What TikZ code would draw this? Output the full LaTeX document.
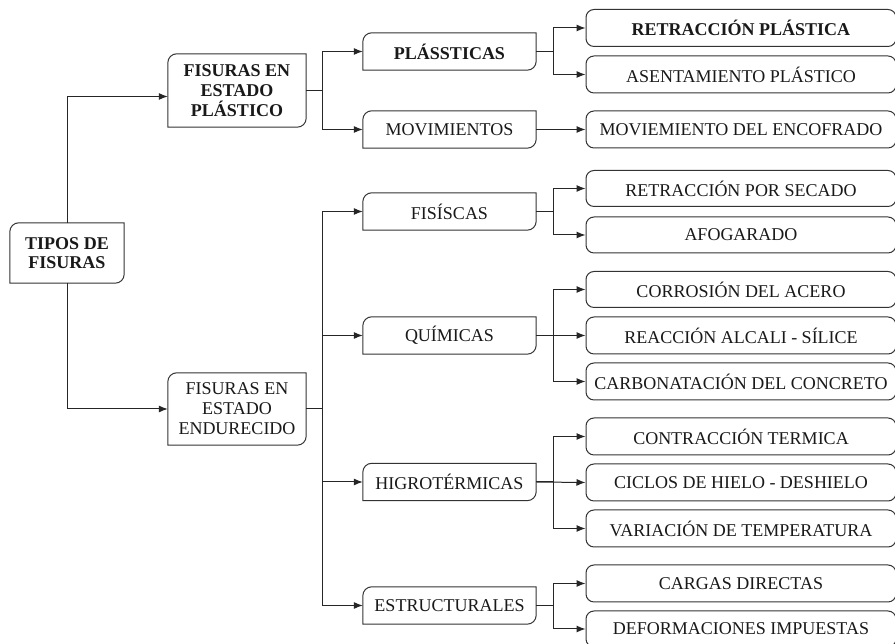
\documentclass[tikz,border=0pt]{standalone}
\usepackage{fontspec}
\setmainfont{Liberation Serif}
\usetikzlibrary{arrows.meta}
\tikzset{
  base/.style={inner sep=0pt, align=center, font=\fontsize{18}{20}\selectfont, text=black!90},
  rootbox/.style={base, minimum width=114pt, minimum height=60pt, font=\fontsize{18}{19}\selectfont\bfseries},
  lvlone/.style={base, minimum width=138pt, minimum height=72pt},
  lvltwo/.style={base, minimum width=173pt, minimum height=37pt},
  leaf/.style={base, draw=black!80, line width=1pt, rounded corners=8pt, minimum width=310pt, minimum height=37pt},
  frame/.style={draw=black!80, line width=1pt},
  conn/.style={draw=black!85, line width=1pt},
  arr/.style={conn, -{Latex[length=9pt,width=7pt]}},
}
\newcommand{\diagframe}[1]{%
  \draw[frame] ([yshift=-9pt]#1.north west) arc[start angle=180,end angle=90,radius=9pt]
    -- (#1.north east) -- ([yshift=9pt]#1.south east)
    arc[start angle=0,end angle=-90,radius=9pt] -- (#1.south west) -- cycle;}
\begin{document}
\begin{tikzpicture}[x=1pt,y=1pt]
\useasboundingbox (0,0) rectangle (895,644);
\clip (0,0) rectangle (895,644);
\fill[white] (0,0) rectangle (895,644);

% root and level one
\node[rootbox] (root) at (67,391) {TIPOS DE\\FISURAS};
\node[lvlone, minimum height=73pt, font=\fontsize{18}{20}\selectfont\bfseries] (fep) at (237,553.5) {FISURAS EN\\ESTADO\\PLÁSTICO};
\node[lvlone] (fee) at (237,235) {FISURAS EN\\ESTADO\\ENDURECIDO};

% level two
\node[lvltwo, font=\fontsize{18}{20}\selectfont\bfseries] (plas) at (449.5,592.5) {PLÁSSTICAS};
\node[lvltwo] (mov) at (449.5,514.5) {MOVIMIENTOS};
\node[lvltwo] (fis) at (449.5,432.5) {FISÍSCAS};
\node[lvltwo] (qui) at (449.5,308.5) {QUÍMICAS};
\node[lvltwo] (hig) at (449.5,162) {HIGROTÉRMICAS};
\node[lvltwo] (est) at (449.5,38.5) {ESTRUCTURALES};

\diagframe{root}
\diagframe{fep}
\diagframe{fee}
\diagframe{plas}
\diagframe{mov}
\diagframe{fis}
\diagframe{qui}
\diagframe{hig}
\diagframe{est}

% leaves
\node[leaf, font=\fontsize{18}{20}\selectfont\bfseries] (rp) at (741,616) {RETRACCIÓN PLÁSTICA};
\node[leaf] (ap) at (741,569.5) {ASENTAMIENTO PLÁSTICO};
\node[leaf] (me) at (741,514.5) {MOVIEMIENTO DEL ENCOFRADO};
\node[leaf, minimum height=36pt] (rs) at (741,455.5) {RETRACCIÓN POR SECADO};
\node[leaf, minimum height=36pt] (af) at (741,409) {AFOGARADO};
\node[leaf, minimum height=36pt] (ca) at (741,354.5) {CORROSIÓN DEL ACERO};
\node[leaf] (ra) at (741,308.5) {REACCIÓN ALCALI - SÍLICE};
\node[leaf] (cc) at (741,262.5) {CARBONATACIÓN DEL CONCRETO};
\node[leaf] (ct) at (741,207.5) {CONTRACCIÓN TERMICA};
\node[leaf] (ch) at (741,161.5) {CICLOS DE HIELO - DESHIELO};
\node[leaf] (vt) at (741,115.5) {VARIACIÓN DE TEMPERATURA};
\node[leaf] (cd) at (741,60.5) {CARGAS DIRECTAS};
\node[leaf, minimum height=36pt] (di) at (741,15) {DEFORMACIONES IMPUESTAS};

% connectors root
\draw[arr] (root.north) |- ([yshift=-6pt]fep.west);
\draw[arr] (root.south) |- (fee.west);

% fep branches
\draw[arr] (fep.east) -- ++(16,0) |- (plas.west);
\draw[arr] (fep.east) -- ++(16,0) |- (mov.west);

% fee branches
\draw[arr] (fee.east) -- ++(16,0) |- (fis.west);
\draw[arr] (fee.east) -- ++(16,0) |- (qui.west);
\draw[arr] (fee.east) -- ++(16,0) |- (hig.west);
\draw[arr] (fee.east) -- ++(16,0) |- (est.west);

% level two to leaves
\draw[arr] (plas.east) -- ++(17.5,0) |- (rp.west);
\draw[arr] (plas.east) -- ++(17.5,0) |- (ap.west);
\draw[arr] (mov.east) -- (me.west);
\draw[arr] (fis.east) -- ++(17.5,0) |- (rs.west);
\draw[arr] (fis.east) -- ++(17.5,0) |- (af.west);
\draw[arr] (qui.east) -- ++(17.5,0) |- (ca.west);
\draw[arr] (qui.east) -- (ra.west);
\draw[arr] (qui.east) -- ++(17.5,0) |- (cc.west);
\draw[arr] (hig.east) -- ++(17.5,0) |- (ct.west);
\draw[arr] (hig.east) -- (ch.west);
\draw[arr] (hig.east) -- ++(17.5,0) |- (vt.west);
\draw[arr] (est.east) -- ++(17.5,0) |- (cd.west);
\draw[arr] (est.east) -- ++(17.5,0) |- (di.west);
\end{tikzpicture}
\end{document}
